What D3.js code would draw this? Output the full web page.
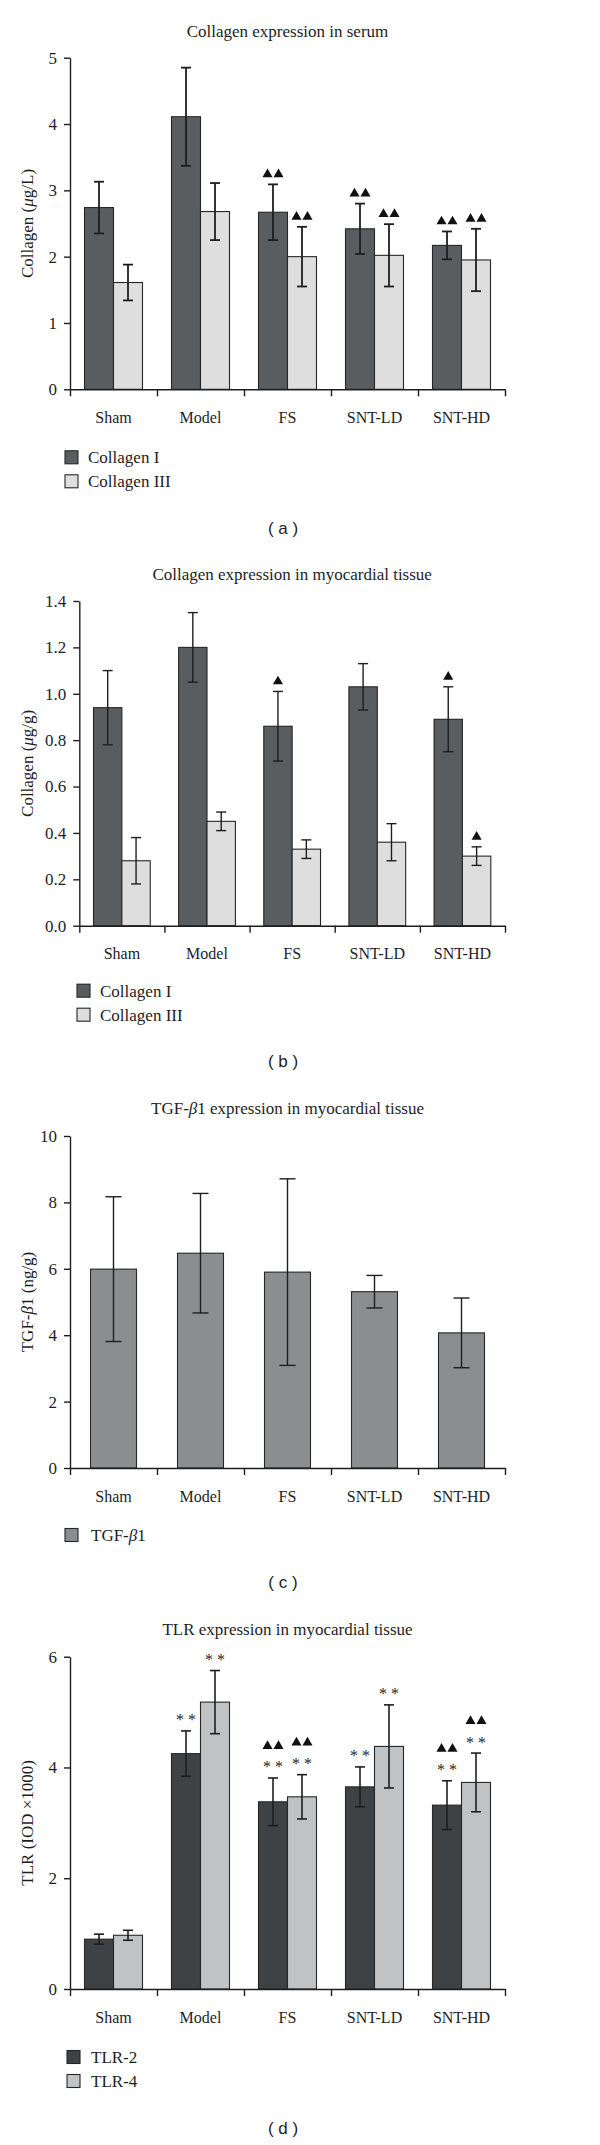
<!DOCTYPE html>
<html>
<head>
<meta charset="utf-8">
<script src="https://cdn.jsdelivr.net/npm/d3@7"></script>
<style>
html,body{margin:0;padding:0;background:#fff;}
svg{display:block;}
</style>
</head>
<body>
<svg id="chart" width="600" height="2145"></svg>
<script>
// ---------- DATA ----------
const categories = ["Sham", "Model", "FS", "SNT-LD", "SNT-HD"];

// (a) Collagen expression in serum (μg/L)
const serumCol1 = [2.74, 4.11, 2.67, 2.42, 2.17];
const serumCol1Err = [0.39, 0.74, 0.42, 0.38, 0.21];
const serumCol3 = [1.61, 2.68, 2.00, 2.02, 1.95];
const serumCol3Err = [0.27, 0.43, 0.45, 0.47, 0.47];
const serumCol1Tri = [0, 0, 2, 2, 2];
const serumCol3Tri = [0, 0, 2, 2, 2];
const serumTicks = [0, 1, 2, 3, 4, 5];

// (b) Collagen expression in myocardial tissue (μg/g)
const tissueCol1 = [0.94, 1.20, 0.86, 1.03, 0.89];
const tissueCol1Err = [0.16, 0.15, 0.15, 0.10, 0.14];
const tissueCol3 = [0.28, 0.45, 0.33, 0.36, 0.30];
const tissueCol3Err = [0.10, 0.04, 0.04, 0.08, 0.04];
const tissueCol1Tri = [0, 0, 1, 0, 1];
const tissueCol3Tri = [0, 0, 0, 0, 1];
const tissueTicks = [0, 0.2, 0.4, 0.6, 0.8, 1.0, 1.2, 1.4];

// (c) TGF-β1 expression in myocardial tissue (ng/g)
const tgfValues = [5.99, 6.47, 5.90, 5.31, 4.07];
const tgfErr = [2.18, 1.80, 2.81, 0.49, 1.05];
const tgfTicks = [0, 2, 4, 6, 8, 10];

// (d) TLR expression in myocardial tissue (IOD ×1000)
const tlr2 = [0.90, 4.25, 3.38, 3.65, 3.32];
const tlr2Err = [0.09, 0.41, 0.43, 0.36, 0.44];
const tlr4 = [0.97, 5.18, 3.47, 4.38, 3.73];
const tlr4Err = [0.09, 0.57, 0.40, 0.75, 0.53];
const tlr2Stars = [0, 1, 1, 1, 1];
const tlr4Stars = [0, 1, 1, 1, 1];
const tlr2Tri = [0, 0, 2, 0, 2];
const tlr4Tri = [0, 0, 2, 0, 2];
const tlrTicks = [0, 2, 4, 6];

// ---------- DRAWING ----------
const svg = d3.select("#chart");
svg.append("rect").attr("width", 600).attr("height", 2145).attr("fill", "#fff");

const SERIF = "'Liberation Serif', 'Times New Roman', serif";
const SANS = "'Liberation Sans', Arial, sans-serif";
const INK = "#1e1e1e";

function richText(sel, parts) {
  parts.forEach(p => {
    const t = sel.append("tspan").text(p.t);
    if (p.i) t.attr("font-style", "italic");
  });
}

function drawPanel(cfg) {
  const g = svg.append("g");
  const y = d3.scaleLinear().domain([0, cfg.yMax]).range([cfg.bottom, cfg.top]);
  const xIdx = d3.scaleLinear().domain([0, categories.length]).range([cfg.left, cfg.right]);
  const x0 = d3.scaleBand().domain(categories).range([cfg.left, cfg.right]).padding(0);
  const keys = cfg.series.map((s, i) => "s" + i);
  const x1 = d3.scaleBand().domain(keys).range([0, x0.bandwidth()])
    .paddingInner(0).paddingOuter(cfg.outerPad);

  // title
  const tt = g.append("text")
    .attr("x", (cfg.left + cfg.right) / 2).attr("y", cfg.titleY)
    .attr("text-anchor", "middle").attr("dominant-baseline", "central")
    .attr("font-family", SERIF).attr("font-size", 17).attr("fill", INK);
  richText(tt, cfg.title);

  // y axis
  const ya = g.append("g").attr("transform", `translate(${cfg.left},0)`)
    .call(d3.axisLeft(y).tickValues(cfg.ticks).tickFormat(cfg.fmt)
      .tickSize(6).tickSizeOuter(0).tickPadding(7));
  ya.select(".domain").attr("stroke", INK).attr("stroke-width", 1.4);
  ya.selectAll(".tick line").attr("stroke", INK).attr("stroke-width", 1.4);
  ya.selectAll(".tick text").attr("font-family", SERIF).attr("font-size", 17).attr("fill", INK);

  // y label
  const yl = g.append("text")
    .attr("transform", `translate(33,${(cfg.top + cfg.bottom) / 2}) rotate(-90)`)
    .attr("text-anchor", "middle")
    .attr("font-family", SERIF).attr("font-size", 17).attr("fill", INK);
  richText(yl, cfg.yLabel);

  // bars
  cfg.series.forEach((s, si) => {
    const key = keys[si];
    const grp = g.append("g");
    categories.forEach((c, ci) => {
      const bx = x0(c) + x1(key);
      const bw = x1.bandwidth();
      const v = s.values[ci];
      grp.append("rect")
        .attr("x", bx).attr("y", y(v))
        .attr("width", bw).attr("height", y(0) - y(v))
        .attr("fill", s.color).attr("stroke", "#262626").attr("stroke-width", 1.1);
    });
  });

  // error bars and annotations
  cfg.series.forEach((s, si) => {
    const key = keys[si];
    categories.forEach((c, ci) => {
      const cx = x0(c) + x1(key) + x1.bandwidth() / 2;
      const v = s.values[ci], e = s.errs[ci];
      const hi = y(v + e), lo = y(v - e);
      const cw = cfg.capW / 2;
      g.append("line").attr("x1", cx).attr("x2", cx).attr("y1", hi).attr("y2", lo)
        .attr("stroke", INK).attr("stroke-width", cfg.errW);
      g.append("line").attr("x1", cx - cw).attr("x2", cx + cw).attr("y1", hi).attr("y2", hi)
        .attr("stroke", INK).attr("stroke-width", cfg.errW);
      g.append("line").attr("x1", cx - cw).attr("x2", cx + cw).attr("y1", lo).attr("y2", lo)
        .attr("stroke", INK).attr("stroke-width", cfg.errW);

      let triY = hi - 11;
      if (s.stars && s.stars[ci]) {
        g.append("text").attr("x", cx).attr("y", hi - 13 + 7.5)
          .attr("text-anchor", "middle")
          .attr("font-family", SERIF).attr("font-size", 16).attr("fill", INK)
          .text("* *");
        triY = hi - 33;
      }
      const n = s.tri ? s.tri[ci] : 0;
      for (let k = 0; k < n; k++) {
        const tx = cx + (k - (n - 1) / 2) * 11;
        g.append("path")
          .attr("transform", `translate(${tx},${triY + 1})`)
          .attr("d", d3.symbol(d3.symbolTriangle, 44)())
          .attr("fill", "#111");
      }
    });
  });

  // x axis
  const xa = g.append("g").attr("transform", `translate(0,${cfg.bottom})`)
    .call(d3.axisBottom(xIdx).tickValues(d3.range(categories.length + 1))
      .tickFormat("").tickSize(7).tickSizeOuter(0));
  xa.select(".domain").attr("stroke", INK).attr("stroke-width", 1.4);
  xa.selectAll(".tick line").attr("stroke", INK).attr("stroke-width", 1.4);

  // category labels
  categories.forEach(c => {
    g.append("text").attr("x", x0(c) + x0.bandwidth() / 2).attr("y", cfg.bottom + 28)
      .attr("text-anchor", "middle").attr("dominant-baseline", "central")
      .attr("font-family", SERIF).attr("font-size", 16).attr("fill", INK).text(c);
  });

  // legend
  cfg.series.forEach((s, si) => {
    const ly = cfg.bottom + cfg.legOff + si * 24;
    g.append("rect").attr("x", cfg.legX).attr("y", ly - 6.5)
      .attr("width", 13).attr("height", 13)
      .attr("fill", s.color).attr("stroke", "#262626").attr("stroke-width", 1.1);
    const lt = g.append("text").attr("x", cfg.legX + cfg.legGap).attr("y", ly)
      .attr("dominant-baseline", "central")
      .attr("font-family", SERIF).attr("font-size", 17).attr("fill", INK);
    richText(lt, s.name);
  });

  // panel label
  const lastLeg = cfg.bottom + cfg.legOff + (cfg.series.length - 1) * 24;
  g.append("text").attr("x", 283).attr("y", lastLeg + 47)
    .attr("text-anchor", "middle").attr("dominant-baseline", "central")
    .attr("font-family", SANS).attr("font-size", 17).attr("fill", INK)
    .text(cfg.label);
}

drawPanel({
  titleY: 31, top: 57.7, bottom: 389.3, left: 70, right: 505, yMax: 5,
  ticks: serumTicks, fmt: d3.format("d"), outerPad: 0.5, capW: 10, errW: 1.8,
  title: [{t: "Collagen expression in serum"}],
  yLabel: [{t: "Collagen ("}, {t: "μ", i: true}, {t: "g/L)"}],
  series: [
    {name: [{t: "Collagen I"}], values: serumCol1, errs: serumCol1Err, color: "#5a5d5f", tri: serumCol1Tri},
    {name: [{t: "Collagen III"}], values: serumCol3, errs: serumCol3Err, color: "#dedede", tri: serumCol3Tri}
  ],
  legX: 65, legGap: 23, legOff: 68, label: "( a )"
});

drawPanel({
  titleY: 574.3, top: 601, bottom: 925.7, left: 79.3, right: 505, yMax: 1.4,
  ticks: tissueTicks, fmt: d3.format(".1f"), outerPad: 0.5, capW: 10, errW: 1.4,
  title: [{t: "Collagen expression in myocardial tissue"}],
  yLabel: [{t: "Collagen ("}, {t: "μ", i: true}, {t: "g/g)"}],
  series: [
    {name: [{t: "Collagen I"}], values: tissueCol1, errs: tissueCol1Err, color: "#5a5d5f", tri: tissueCol1Tri},
    {name: [{t: "Collagen III"}], values: tissueCol3, errs: tissueCol3Err, color: "#dedede", tri: tissueCol3Tri}
  ],
  legX: 77, legGap: 23, legOff: 65, label: "( b )"
});

drawPanel({
  titleY: 1108, top: 1136, bottom: 1468, left: 70, right: 505, yMax: 10,
  ticks: tgfTicks, fmt: d3.format("d"), outerPad: 0.446, capW: 16, errW: 1.4,
  title: [{t: "TGF-"}, {t: "β", i: true}, {t: "1 expression in myocardial tissue"}],
  yLabel: [{t: "TGF-"}, {t: "β", i: true}, {t: "1 (ng/g)"}],
  series: [
    {name: [{t: "TGF-"}, {t: "β", i: true}, {t: "1"}], values: tgfValues, errs: tgfErr, color: "#8b8d8f"}
  ],
  legX: 65, legGap: 26, legOff: 67, label: "( c )"
});

drawPanel({
  titleY: 1629, top: 1656.7, bottom: 1989, left: 70, right: 505, yMax: 6,
  ticks: tlrTicks, fmt: d3.format("d"), outerPad: 0.5, capW: 10, errW: 1.6,
  title: [{t: "TLR expression in myocardial tissue"}],
  yLabel: [{t: "TLR (IOD ×1000)"}],
  series: [
    {name: [{t: "TLR-2"}], values: tlr2, errs: tlr2Err, color: "#3f4244", stars: tlr2Stars, tri: tlr2Tri},
    {name: [{t: "TLR-4"}], values: tlr4, errs: tlr4Err, color: "#c0c2c4", stars: tlr4Stars, tri: tlr4Tri}
  ],
  legX: 67, legGap: 24, legOff: 68, label: "( d )"
});
</script>
</body>
</html>
